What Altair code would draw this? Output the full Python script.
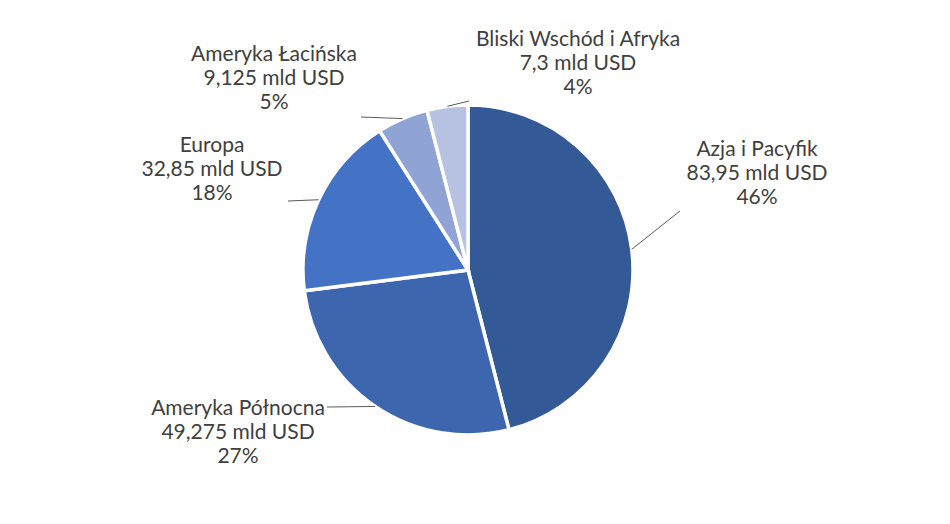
import math
import altair as alt
import pandas as pd

# ---- data ----
categories = ["Azja i Pacyfik", "Ameryka Północna", "Europa", "Ameryka Łacińska", "Bliski Wschód i Afryka"]
values = [83.95, 49.275, 32.85, 9.125, 7.3]  # mld USD
colors = ["#335A96", "#3E66AE", "#4472C4", "#8FA3D5", "#B7C2E2"]

# ---- layout (pixels, relative to the pie centre) ----
W, H = 934, 508
CX, CY = 460, 262
R = 165
leader_end = [(212, -59), (-141, 137), (-180, -69), (-107, -153), (1, -169)]
# position of the first text line of each label
label_pos = [(289, -120), (-230, 139), (-256, -124), (-194, -215), (110, -230)]

total = sum(values)
rows, lines, labels = [], [], []
cum = 0.0
for i, (c, v) in enumerate(zip(categories, values)):
    mid = (cum + v / 2) / total * 2 * math.pi
    cum += v
    pct = round(v / total * 100)
    txt = f"{c}\n{str(v).replace('.', ',')} mld USD\n{pct}%"
    rows.append({"cat": c, "value": v, "order": i})
    sx = CX + R * math.sin(mid)
    sy = CY - R * math.cos(mid)
    ex, ey = CX + leader_end[i][0], CY + leader_end[i][1]
    lines.append({"cat": c, "x": sx, "y": sy, "x2": ex, "y2": ey})
    labels.append({"cat": c, "text": txt.split("\n"), "x": CX + label_pos[i][0], "y": CY + label_pos[i][1]})

df = pd.DataFrame(rows)
df_lines = pd.DataFrame(lines)
df_labels = pd.DataFrame(labels)

xs = alt.Scale(domain=[0, W], nice=False, zero=False)
ys = alt.Scale(domain=[0, H], nice=False, zero=False, reverse=True)

pie = alt.Chart(df).mark_arc(outerRadius=R, stroke="white", strokeWidth=3.5).encode(
    theta=alt.Theta("value:Q", stack=True),
    order=alt.Order("order:Q"),
    color=alt.Color("cat:N", scale=alt.Scale(domain=categories, range=colors), legend=None),
    x=alt.value(CX),
    y=alt.value(CY),
)

leaders = alt.Chart(df_lines).mark_rule(color="#595959", strokeWidth=1).encode(
    x=alt.X("x:Q", scale=xs, axis=None),
    y=alt.Y("y:Q", scale=ys, axis=None),
    x2="x2:Q",
    y2="y2:Q",
)

text = alt.Chart(df_labels).mark_text(
    font="Lato", fontSize=21, color="#404040", align="center", baseline="middle", lineHeight=24
).encode(
    x=alt.X("x:Q", scale=xs, axis=None),
    y=alt.Y("y:Q", scale=ys, axis=None),
    text="text",
)

chart = alt.layer(pie, leaders, text).properties(
    width=W, height=H, padding=0,
    autosize=alt.AutoSizeParams(type="none"),
).configure_view(stroke=None)

chart.save("out.html", embed_options={"renderer": "svg", "actions": False})
